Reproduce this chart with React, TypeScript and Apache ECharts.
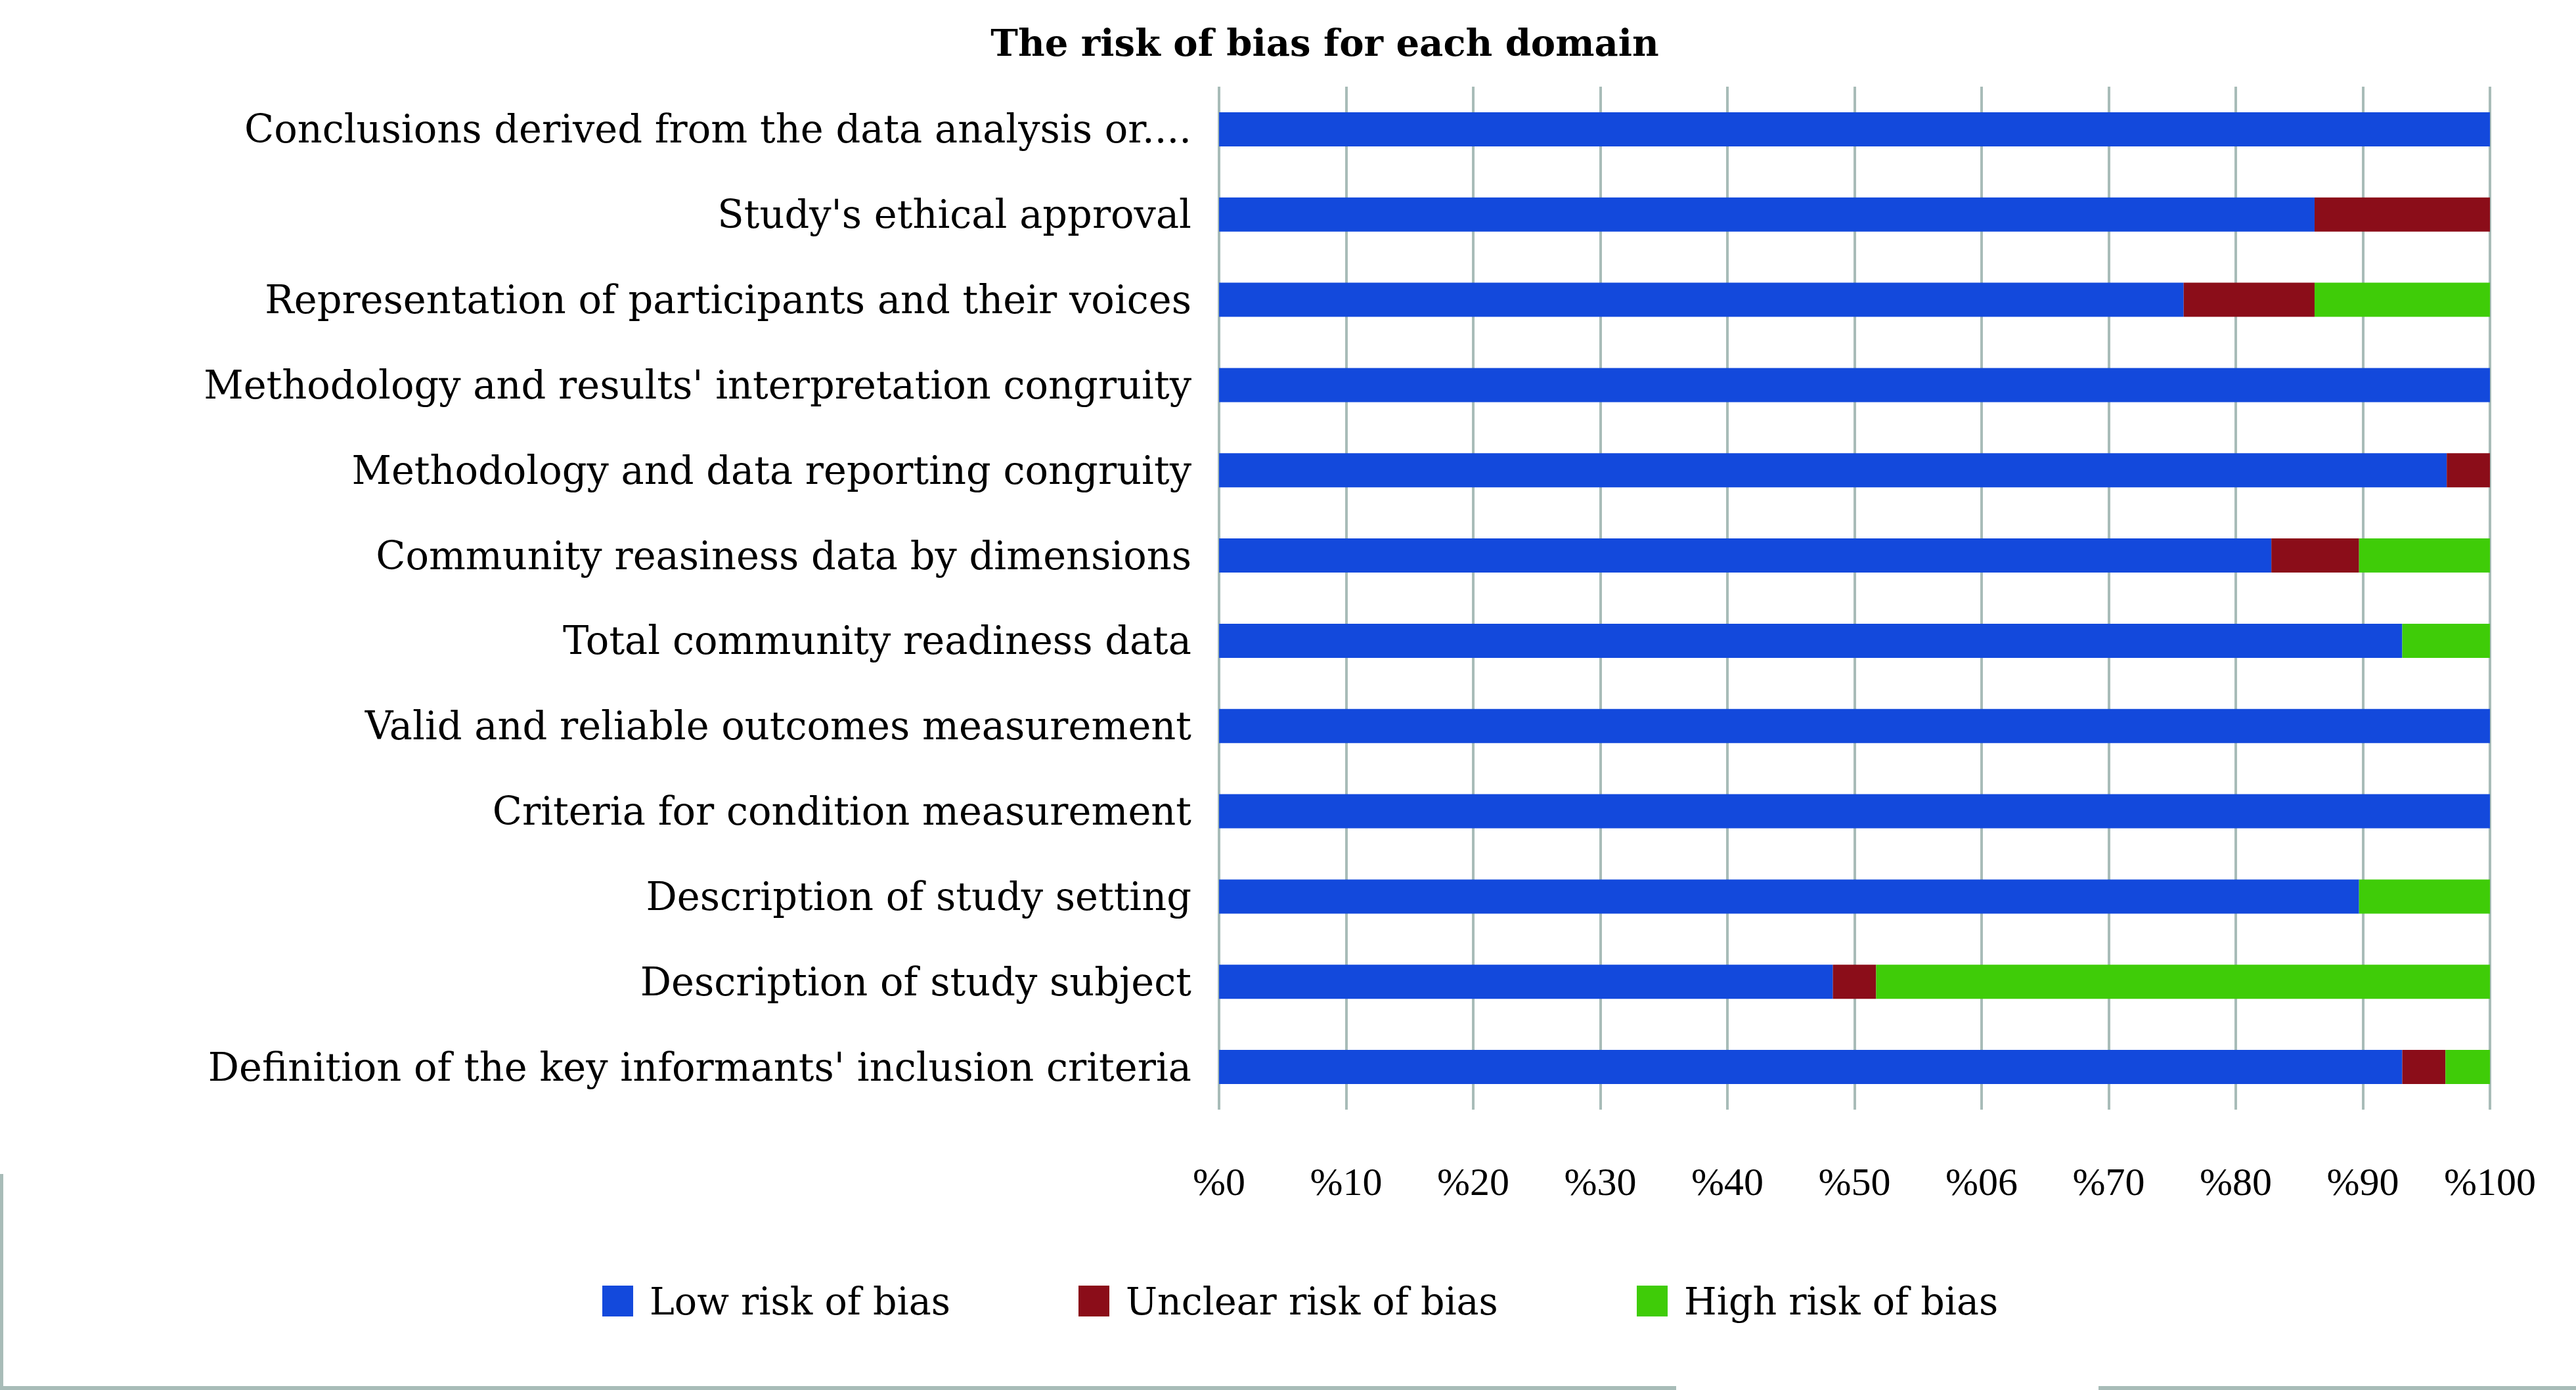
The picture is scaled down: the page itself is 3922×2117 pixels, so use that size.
import React, { useEffect, useRef } from "react";
import * as echarts from "echarts";

const categories = [
  "Conclusions derived from the data analysis or....",
  "Study's ethical approval",
  "Representation of participants and their voices",
  "Methodology and results' interpretation congruity",
  "Methodology and data reporting congruity",
  "Community reasiness data by dimensions",
  "Total community readiness data",
  "Valid and reliable outcomes measurement",
  "Criteria for condition measurement",
  "Description of study setting",
  "Description of study subject",
  "Definition of the key informants' inclusion criteria",
];

const lowRisk = [100, 86.2, 75.9, 100, 96.6, 82.8, 93.1, 100, 100, 89.7, 48.3, 93.1];
const unclearRisk = [0, 13.8, 10.3, 0, 3.4, 6.9, 0, 0, 0, 0, 3.4, 3.4];
const highRisk = [0, 0, 13.8, 0, 0, 10.3, 6.9, 0, 0, 10.3, 48.3, 3.5];

const seriesNames = ["Low risk of bias", "Unclear risk of bias", "High risk of bias"];
const xTickLabels = ["%0", "%10", "%20", "%30", "%40", "%50", "%06", "%70", "%80", "%90", "%100"];

const SERIF = "'DejaVu Serif', 'Liberation Serif', serif";
const TICK_FONT = "'Liberation Serif', 'Times New Roman', serif";
const COLORS = ["#1349DC", "#8B0D19", "#3FCC08"];
const GRID_COLOR = "#A8BCB8";

export default function App() {
  const ref = useRef<HTMLDivElement>(null);

  useEffect(() => {
    if (!ref.current) return;
    const chart = echarts.init(ref.current, undefined, { renderer: "svg" });
    const values = [lowRisk, unclearRisk, highRisk];
    const legendLefts = [912, 1637, 2487];
    chart.setOption({
      animation: false,
      backgroundColor: "#ffffff",
      title: {
        text: "The risk of bias for each domain",
        left: 2012,
        top: 32,
        textAlign: "center",
        textStyle: { fontFamily: SERIF, fontSize: 56, fontWeight: "bold", color: "#000" },
      },
      legend: seriesNames.map((name, i) => ({
        data: [name],
        left: legendLefts[i],
        top: 1948,
        icon: "rect",
        itemWidth: 47,
        itemHeight: 47,
        textStyle: { fontFamily: SERIF, fontSize: 57, color: "#000", padding: [0, 0, 0, 20] },
      })),
      grid: { left: 1856, right: 131, top: 132, bottom: 427, containLabel: false },
      xAxis: {
        type: "value",
        min: 0,
        max: 100,
        interval: 10,
        axisLine: { show: false },
        axisTick: { show: false },
        splitLine: { show: true, lineStyle: { color: GRID_COLOR, width: 4 } },
        axisLabel: {
          margin: 80,
          fontFamily: TICK_FONT,
          fontSize: 60,
          color: "#000",
          formatter: (v: number) => xTickLabels[Math.round(v / 10)],
        },
      },
      yAxis: {
        type: "category",
        inverse: true,
        data: categories,
        axisLine: { show: false },
        axisTick: { show: false },
        splitLine: { show: false },
        axisLabel: { margin: 42, fontFamily: SERIF, fontSize: 59, color: "#000" },
      },
      series: seriesNames.map((name, i) => ({
        name,
        type: "bar",
        stack: "total",
        barWidth: 52,
        itemStyle: { color: COLORS[i] },
        data: values[i],
      })),
      graphic: [
        { type: "rect", shape: { x: 0, y: 1788, width: 5, height: 329 }, style: { fill: GRID_COLOR } },
        { type: "rect", shape: { x: 0, y: 2111, width: 2552, height: 6 }, style: { fill: GRID_COLOR } },
        { type: "rect", shape: { x: 3195, y: 2111, width: 727, height: 6 }, style: { fill: GRID_COLOR } },
      ],
    });
    return () => chart.dispose();
  }, []);

  return (
    <div
      ref={ref}
      style={{ position: "fixed", left: 0, top: 0, width: 3922, height: 2117 }}
    />
  );
}
